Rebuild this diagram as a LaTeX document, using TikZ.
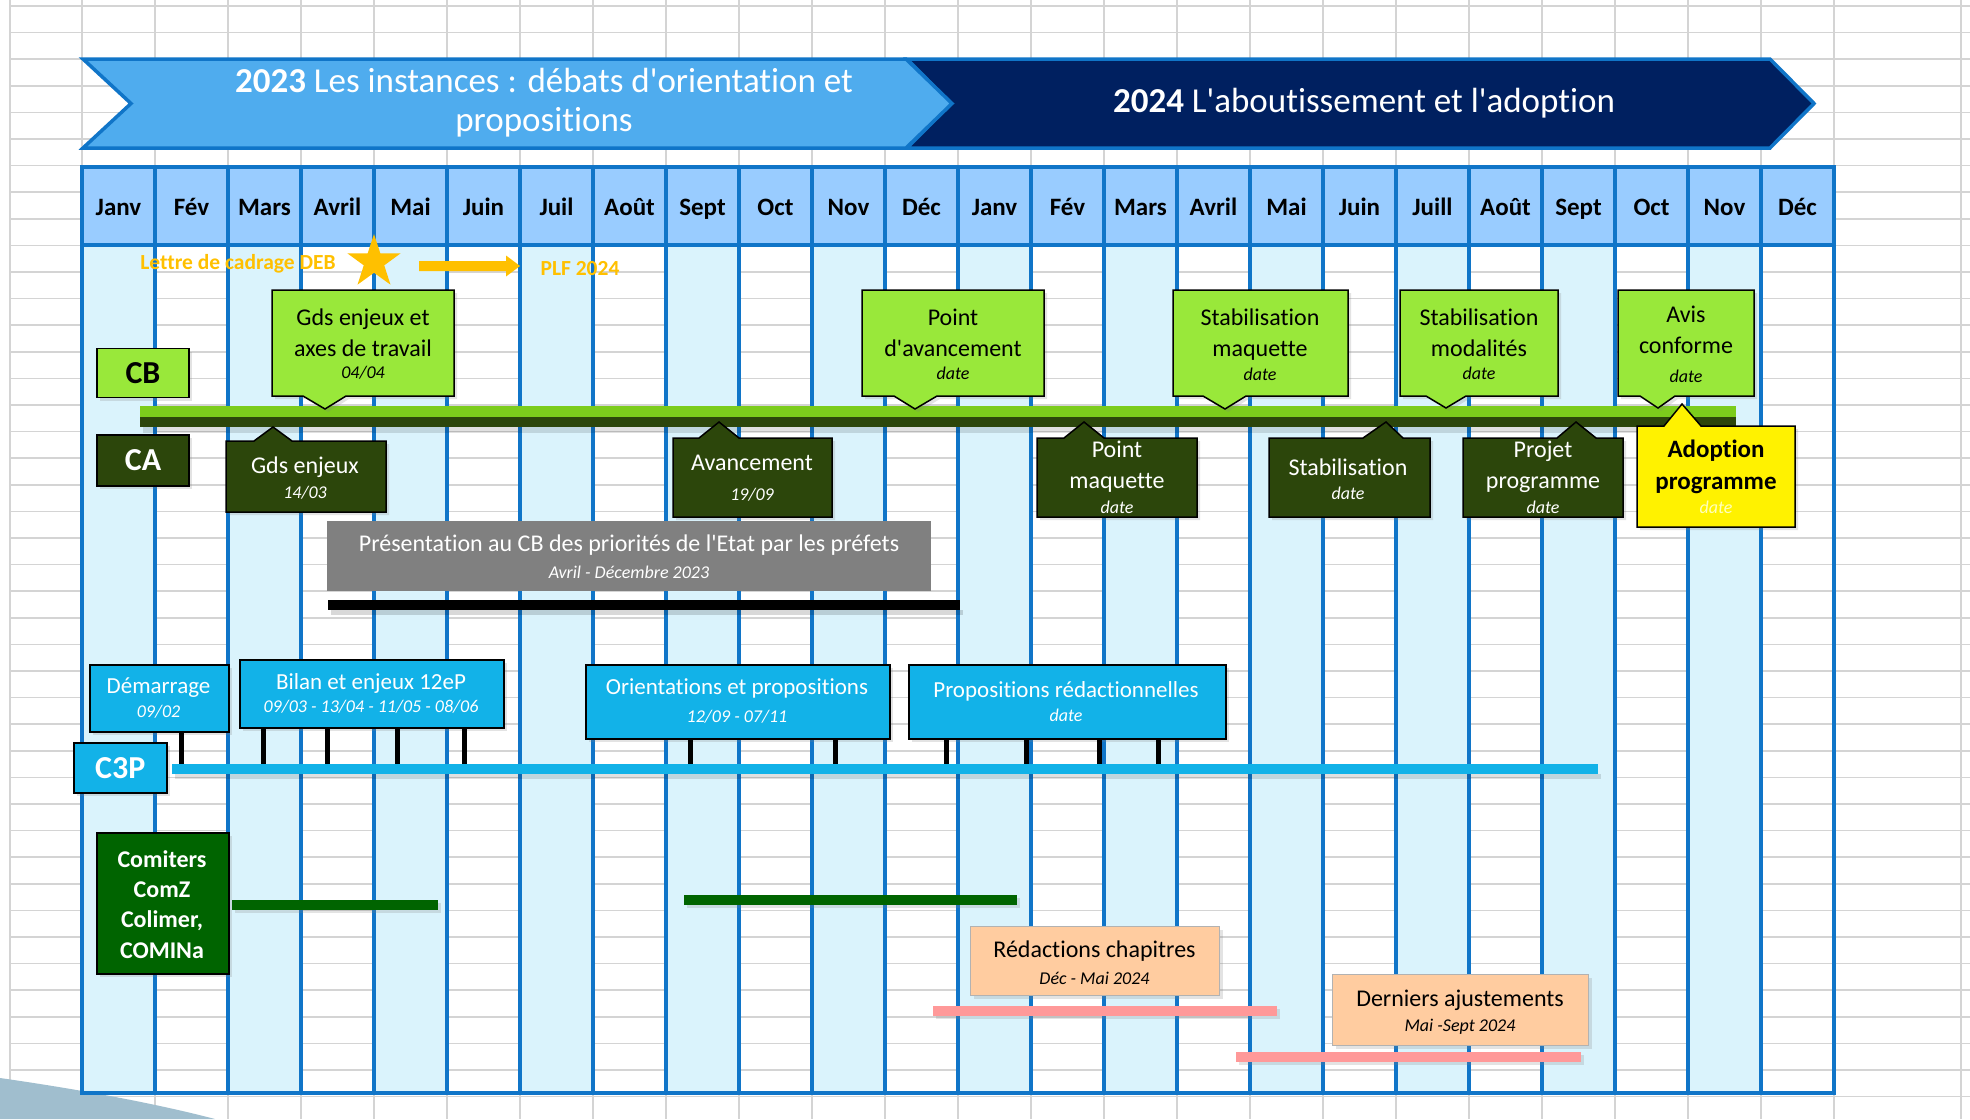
\documentclass[tikz,border=0pt]{standalone}
\usepackage{fontspec}
\setmainfont{Carlito}
\newfontfamily\calib[Ligatures=CommonOff]{Carlito}
\usetikzlibrary{shapes.geometric,shadows}
\definecolor{gridgray}{RGB}{212,212,212}
\definecolor{headblue}{RGB}{153,204,255}
\definecolor{colblue}{RGB}{218,243,252}
\definecolor{lineblue}{RGB}{16,117,200}
\definecolor{ban23}{RGB}{79,172,238}
\definecolor{navyb}{RGB}{0,32,96}
\definecolor{goldc}{RGB}{255,192,0}
\definecolor{limec}{RGB}{153,232,58}
\definecolor{barlime}{RGB}{124,204,28}
\definecolor{darkgr}{RGB}{44,70,11}
\definecolor{cyanb}{RGB}{18,178,232}
\definecolor{comgreen}{RGB}{0,100,0}
\definecolor{boxgray}{RGB}{128,128,128}
\definecolor{peach}{RGB}{255,204,160}
\definecolor{pinkbar}{RGB}{255,153,153}
\definecolor{paleyel}{RGB}{255,255,190}
\definecolor{wedgec}{RGB}{160,190,206}
\newcommand\fsz[2]{\fontsize{#1}{#2}\selectfont}
\newcommand\upcall[8]{\filldraw[callup] (#1,#2) -- (#3,#2) -- (#3,#4) -- (#6,#4) -- (#7,#8) -- (#5,#4) -- (#1,#4) -- cycle;}
\newcommand\downcall[9]{\filldraw[#9] (#1,#2) -- (#5,#2) -- (#7,#8) -- (#6,#2) -- (#3,#2) -- (#3,#4) -- (#1,#4) -- cycle;}
\tikzset{
  gridline/.style={draw=gridgray, line width=1.6pt},
  tabline/.style={draw=lineblue, line width=3.5pt},
  month/.style={font=\calib\fsz{25}{30}\bfseries, text=black, inner sep=0pt, anchor=base},
  shadowed/.style={drop shadow={shadow xshift=3pt, shadow yshift=-3pt, opacity=0.22}},
  callup/.style={fill=limec, draw=black, line width=1.5pt, shadowed},
  calldark/.style={fill=darkgr, draw=black, line width=1.5pt, shadowed},
  callyel/.style={fill=yellow, draw=black, line width=1.5pt, shadowed},
  txt/.style={font=\calib\fsz{24}{31}, align=center, inner sep=0pt},
  txtw/.style={txt, text=white},
  datetxt/.style={font=\calib\fsz{18}{22}\itshape, inner sep=0pt},
  datew/.style={datetxt, text=white},
  labbox/.style={draw=black, line width=1.5pt, inner sep=0pt, font=\calib\fsz{32}{36}\bfseries, shadowed},
  bluebox/.style={fill=cyanb, draw=black, line width=1.5pt, anchor=north west, inner sep=0pt, shadowed},
  peachbox/.style={fill=peach, draw=gray!60, line width=1.2pt, anchor=north west, inner sep=0pt, shadowed},
  stem/.style={draw=black, line width=5pt},
  bar/.style={shadowed},
  goldtxt/.style={font=\calib\fsz{21.5}{25}\bfseries, text=goldc, inner sep=0pt},
}
\begin{document}
\begin{tikzpicture}[x=1pt,y=-1pt]
\useasboundingbox (0,0) rectangle (1970,1119);
\fill[white] (0,0) rectangle (1970,1119);
% spreadsheet grid
\foreach \k in {0,...,41} \draw[gridline] (10,{6+26.6*\k}) -- (1970,{6+26.6*\k});
\foreach \k in {0,...,24} \draw[gridline] ({82+73*\k},0) -- ({82+73*\k},1119);
\foreach \x in {10,1961} \draw[gridline] (\x,0) -- (\x,1119);
% bottom-left wedge
\fill[wedgec] (0,1119) -- (0,1078) .. controls (70,1088) and (150,1102) .. (215,1119) -- cycle;
% table
\foreach \k in {0,2,...,22} \fill[colblue] ({82+73*\k},245) rectangle ({155+73*\k},1093);
\fill[headblue] (82,167) rectangle (1834,245);
\foreach \k in {1,...,23} \draw[tabline] ({82+73*\k},167) -- ({82+73*\k},1093);
\draw[tabline] (82,245) -- (1834,245);
\draw[tabline] (82,167) rectangle (1834,1093);
\foreach \m [count=\i from 0] in {Janv,Fév,Mars,Avril,Mai,Juin,Juil,Août,Sept,Oct,Nov,Déc,Janv,Fév,Mars,Avril,Mai,Juin,Juill,Août,Sept,Oct,Nov,Déc}
  \node[month] (m\i) at ({118.5+73*\i},215) {\m};
% banners
\filldraw[fill=navyb, draw=lineblue, line width=3.5pt, line join=miter] (907,59) -- (1770,59) -- (1814,103.5) -- (1770,148) -- (907,148) -- (951,103.5) -- cycle;
\filldraw[fill=ban23, draw=lineblue, line width=3.5pt, line join=miter] (83,59) -- (906,59) -- (952,103.5) -- (906,148) -- (83,148) -- (131,103.5) -- cycle;
\node[font=\calib\fsz{35}{39}, text=white, align=center, inner sep=0pt] (t23) at (544,103) {{\bfseries 2023} Les instances : débats d'orientation et\\propositions};
\node[font=\calib\fsz{35}{39}, text=white, inner sep=0pt] (t24) at (1364,103) {{\bfseries 2024} L'aboutissement et l'adoption};
% lettre de cadrage
\node[goldtxt] (lettre) at (238,264) {Lettre de cadrage DEB};
\node[star, star points=5, star point ratio=2.6, fill=goldc, minimum size=56pt, inner sep=0pt] (star) at (374,262) {};
\node[goldtxt] (plf) at (580,269) {PLF 2024};
\coordinate (arrA) at (419,266);
\coordinate (arrB) at (520,266);
\fill[goldc] (arrA) ++(0,-5) -- (506,261) -- (506,255.5) -- (arrB) -- (506,276.5) -- (506,271) -- (419,271) -- cycle;
% CB / CA
\node[labbox, fill=limec, minimum width=92pt, minimum height=49pt] (cb) at (143,373) {CB};
\node[labbox, fill=darkgr, text=white, minimum width=92pt, minimum height=51pt] (ca) at (143,460.5) {CA};
\fill[black, opacity=0.12] (143,427) rectangle (1739,433);
\fill[barlime] (140,406) rectangle (1736,416.5);
\fill[darkgr] (140,416.5) rectangle (1736,427);
% upper callouts
\upcall{272}{290}{454}{396}{303}{346}{325}{409}
\upcall{862}{290}{1044}{396}{894}{937}{915}{409}
\upcall{1173}{290}{1348}{396}{1203}{1246}{1225}{409}
\upcall{1400}{290}{1558}{396}{1426}{1466}{1446}{408}
\upcall{1618}{290}{1754}{396}{1640}{1675}{1658}{408}
\node[txt] (u1) at (363,332.5) {Gds enjeux et\\axes de travail};
\node[datetxt] (u1d) at (363,373) {04/04};
\node[txt] (u2) at (953,332.5) {Point\\d'avancement};
\node[datetxt] (u2d) at (953,373) {date};
\node[txt] (u3) at (1260,334.5) {Stabilisation\\maquette};
\node[datetxt] (u3d) at (1260,374) {date};
\node[txt] (u4) at (1479,333) {Stabilisation\\modalités};
\node[datetxt] (u4d) at (1479,373) {date};
\node[txt] (u5) at (1686,329.5) {Avis\\conforme};
\node[datetxt] (u5d) at (1686,376) {date};
% lower callouts
\downcall{226}{441}{386}{512}{254}{292}{273}{427}{calldark}
\downcall{673}{438}{832}{517}{699}{739}{719}{422}{calldark}
\downcall{1037}{438}{1197}{517}{1064}{1104}{1084}{422}{calldark}
\downcall{1269}{438}{1430}{517}{1363}{1403}{1386}{422}{calldark}
\downcall{1463}{438}{1623}{517}{1557}{1596}{1576}{422}{calldark}
\downcall{1637}{426}{1795}{527}{1664}{1701}{1682}{404}{callyel}
\node[txtw] (d1) at (305,467) {Gds enjeux};
\node[datew] (d1d) at (305,493) {14/03};
\node[txtw] (d2) at (752,463) {Avancement};
\node[datew] (d2d) at (752,495) {19/09};
\node[txtw] (d3) at (1117,467) {Point\\maquette};
\node[datew] (d3d) at (1117,507) {date};
\node[txtw] (d4) at (1348,467) {Stabilisation};
\node[datew] (d4d) at (1348,493) {date};
\node[txtw] (d5) at (1543,467) {Projet\\programme};
\node[datew] (d5d) at (1543,507) {date};
\node[txt, font=\calib\fsz{25}{32}\bfseries] (d6) at (1716,467) {Adoption\\programme};
\node[datetxt, text=paleyel] (d6d) at (1716,507) {date};
% presentation CB
\node[fill=boxgray, anchor=north west, minimum width=604pt, minimum height=70pt, inner sep=0pt] (pres) at (327,521) {};
\node[txtw] (prest) at (629,545) {Présentation au CB des priorités de l'Etat par les préfets};
\node[datew] (presd) at (629,572) {Avril - Décembre 2023};
\fill[black, opacity=0.15] (331,610) rectangle (963,615);
\fill[black] (328,600) rectangle (960,610);
% C3P
\fill[black, opacity=0.12] (175,774) rectangle (1601,779);
\fill[cyanb] (172,764) rectangle (1598,774);
\coordinate (c3pline) at (172,764);
\node[bluebox, minimum width=93pt, minimum height=50pt, font=\calib\fsz{32}{36}\bfseries, text=white] (c3p) at (73,742) {C3P};
\node[bluebox, minimum width=139pt, minimum height=67pt] (dem) at (89,664) {};
\node[bluebox, minimum width=264pt, minimum height=68pt] (bil) at (239,659) {};
\node[bluebox, minimum width=304pt, minimum height=74pt] (ori) at (585,664) {};
\node[bluebox, minimum width=317pt, minimum height=74pt] (pro) at (908,664) {};
\foreach \x in {181} \draw[stem] (dem.south -| \x,0) -- (c3pline -| \x,0);
\foreach \x in {263,327,397,464} \draw[stem] (bil.south -| \x,0) -- (c3pline -| \x,0);
\foreach \x in {690,835} \draw[stem] (ori.south -| \x,0) -- (c3pline -| \x,0);
\foreach \x in {946,1026,1099,1158} \draw[stem] (pro.south -| \x,0) -- (c3pline -| \x,0);
\node[txtw, font=\calib\fsz{23}{28}] (demt) at (158.5,688) {Démarrage};
\node[datew] (demd) at (158.5,712) {09/02};
\node[txtw, font=\calib\fsz{23}{28}] (bilt) at (371,683) {Bilan et enjeux 12eP};
\node[datew] (bild) at (371,707) {09/03 - 13/04 - 11/05 - 08/06};
\node[txtw, font=\calib\fsz{23}{28}] (orit) at (737,688) {Orientations et propositions};
\node[datew] (orid) at (737,717) {12/09 - 07/11};
\node[txtw, font=\calib\fsz{23}{28}] (prot) at (1066,691) {Propositions rédactionnelles};
\node[datew] (prod) at (1066,715) {date};
% Comiters
\node[fill=comgreen, draw=black, line width=1.5pt, anchor=north west, minimum width=132pt, minimum height=141pt, inner sep=0pt, shadowed] (com) at (96,832) {};
\node[txtw, font=\calib\fsz{24}{30.3}\bfseries] (comt) at (162,904.5) {Comiters\\ComZ\\Colimer,\\COMINa};
\fill[comgreen, bar] (232,900) rectangle (438,910);
\fill[comgreen, bar] (684,895) rectangle (1017,905);
% peach boxes
\node[peachbox, minimum width=249pt, minimum height=69pt] (red) at (970,926) {};
\node[txt] (redt) at (1094.5,951) {Rédactions chapitres};
\node[datetxt] (redd) at (1094.5,978) {Déc - Mai 2024};
\fill[pinkbar, bar] (933,1006) rectangle (1277,1016);
\node[peachbox, minimum width=256pt, minimum height=71pt] (der) at (1332,974) {};
\node[txt] (dert) at (1460,1000) {Derniers ajustements};
\node[datetxt] (derd) at (1460,1027) {Mai -Sept 2024};
\fill[pinkbar, bar] (1236,1052) rectangle (1581,1062);
\end{tikzpicture}
\end{document}
